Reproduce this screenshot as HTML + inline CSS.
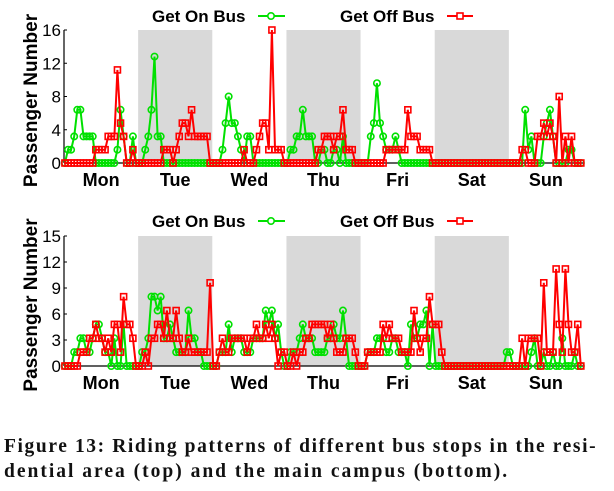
<!DOCTYPE html>
<html><head><meta charset="utf-8"><style>
body{margin:0;background:#fff;width:614px;height:491px;overflow:hidden}
svg{display:block}
.cap{position:absolute;left:4px;font-family:"Liberation Serif",serif;font-weight:bold;font-size:19.5px;color:#111;white-space:nowrap}
</style></head><body>
<svg id="chart" width="614" height="420" xmlns="http://www.w3.org/2000/svg" font-family="Liberation Sans, sans-serif"></svg>
<div class="cap" style="top:436px;letter-spacing:1.6px">Figure 13: Riding patterns of different bus stops in the resi-</div>
<div class="cap" style="top:461px;letter-spacing:2px">dential area (top) and the main campus (bottom).</div>
<script>
const days = ["Mon","Tue","Wed","Thu","Fri","Sat","Sun"];
const unit = 1.6;
// values in units of 1.6 passengers, 24 per day
const topOn = [0,1,1,2,4,4,2,2,2,2,0,0,0,0,0,0,0,1,4,2,0,0,2,0,
 0,0,1,2,4,8,2,2,0,0,0,0,0,0,0,0,0,0,0,0,0,0,0,0,
 0,0,0,1,3,5,3,3,2,1,0,2,2,0,0,0,0,0,0,0,0,0,0,0,
 0,1,1,2,2,4,2,2,2,0,0,1,1,0,0,1,1,0,2,0,0,0,0,0,
 0,0,0,2,3,6,3,2,1,1,1,2,1,0,0,0,0,0,0,0,0,0,0,0,
 0,0,0,0,0,0,0,0,0,0,0,0,0,0,0,0,0,0,0,0,0,0,0,0,
 0,0,0,0,0,4,1,2,0,0,0,2,3,4,2,0,0,0,0,1,1,0,0,0];
const topOff = [0,0,0,0,0,0,0,0,0,0,1,1,1,1,2,2,2,7,3,2,0,0,1,0,
 0,0,0,0,0,0,0,0,1,1,1,0,1,2,3,3,2,4,2,2,2,2,2,0,
 0,0,0,0,0,0,0,0,0,0,1,0,0,0,1,2,3,3,1,10,1,1,1,0,
 0,0,0,0,0,0,0,0,0,0,1,1,2,2,2,1,2,2,4,1,1,1,0,0,
 0,0,0,0,0,0,0,0,1,1,1,1,1,1,1,4,2,2,2,1,1,1,1,0,
 0,0,0,0,0,0,0,0,0,0,0,0,0,0,0,0,0,0,0,0,0,0,0,0,
 0,0,0,0,1,1,0,0,0,2,2,3,2,3,2,0,5,0,2,0,2,0,0,0];
const botOn = [0,0,0,1,1,2,2,1,1,2,3,3,2,1,1,0,2,0,0,3,0,0,0,0,
 0,1,1,2,5,5,4,5,2,2,3,2,1,1,1,1,4,2,2,1,1,0,0,0,
 0,0,1,1,1,3,1,2,2,2,1,1,1,2,2,2,2,4,3,4,2,3,1,0,
 0,1,1,1,2,3,2,2,2,1,1,1,1,2,2,3,2,2,4,2,0,0,0,0,
 0,0,1,1,1,2,2,2,1,1,2,2,1,1,1,0,3,2,2,3,3,4,0,3,
 0,0,0,0,0,0,0,0,0,0,0,0,0,0,0,0,0,0,0,0,0,0,0,1,
 1,0,0,0,0,0,0,1,2,0,0,1,0,0,1,0,0,2,0,0,0,1,0,0];
const botOff = [0,0,0,0,0,1,1,1,2,2,3,2,2,1,2,1,3,3,1,5,3,3,2,0,
 0,0,1,0,2,2,3,3,2,4,2,2,4,2,1,1,2,1,1,1,1,1,1,6,
 0,0,1,2,1,1,2,2,2,2,2,1,2,2,3,2,2,3,2,3,2,0,1,1,
 0,0,1,0,1,1,2,2,3,3,3,3,3,2,3,2,1,1,1,2,2,2,1,0,
 0,0,1,1,1,1,1,3,2,3,2,2,2,1,1,1,1,4,2,1,2,2,5,3,
 3,3,1,0,0,0,0,0,0,0,0,0,0,0,0,0,0,0,0,0,0,0,0,0,
 0,0,0,0,2,0,2,2,2,2,0,6,1,1,1,7,3,1,7,3,1,1,3,0];
const topTicks = [0,4,8,12,16];
const botTicks = [0,3,6,9,12,15];

const NS = "http://www.w3.org/2000/svg";
const svg = document.getElementById("chart");
function mk(tag, attrs, parent){
  const e = document.createElementNS(NS, tag);
  for (const k in attrs) e.setAttribute(k, attrs[k]);
  (parent||svg).appendChild(e);
  return e;
}
const X0 = 64, X1 = 583, N = 168;
const xs = i => X0 + (i + 0.3) * (X1 - X0) / N;
const dayX = d => X0 + d * (X1 - X0) / 7;

function panel(name, yTop, yBot, ymax, ticks, on, off, legY){
  const ys = v => yBot - (v / ymax) * (yBot - yTop);
  const g = mk("g", {});
  
  
  [1,3,5].forEach(d => {
    const r = mk("rect", {x: dayX(d), y: yTop, width: dayX(d+1)-dayX(d), height: yBot-yTop, fill: "#d9d9d9"}, g);
    
    
  });
  const ax = mk("line", {x1: X0, y1: yTop, x2: X0, y2: yBot, stroke: "#000", "stroke-width": 1.2}, g);
  
  
  ticks.forEach(t => {
    const y = ys(t);
    mk("line", {x1: X0, y1: y, x2: X0 + 3, y2: y, stroke: "#000"}, g);
    const tx = mk("text", {x: X0 - 3, y: y + 6, "text-anchor": "end", "font-size": 17, fill: "#000"}, g);
    tx.textContent = t;
    
    
  });
  const bl = mk("line", {x1: X0, y1: yBot, x2: X1, y2: yBot, stroke: "#000", "stroke-width": 1.2}, g);
  
  
  days.forEach((d, k) => {
    const t = mk("text", {x: (dayX(k)+dayX(k+1))/2, y: yBot + 23, "text-anchor": "middle", "font-size": 18, "font-weight": "bold"}, g);
    t.textContent = d;
    
    
  });
  const yt = mk("text", {transform: `translate(37,${(yTop+yBot)/2+4}) rotate(-90)`, "text-anchor": "middle", "font-size": 19, "font-weight": "bold"}, g);
  yt.textContent = "Passenger Number";
  
  

  function series(vals, color, shape, sname){
    const sg = mk("g", {}, g);
    
    
    const pts = vals.map((v, i) => xs(i).toFixed(1) + "," + ys(v * unit).toFixed(1)).join(" ");
    const pl = mk("polyline", {points: pts, fill: "none", stroke: color, "stroke-width": 2}, sg);
    
    
    vals.forEach((v, i) => {
      const cx = xs(i), cy = ys(v * unit);
      let m;
      if (shape === "c") m = mk("circle", {cx, cy, r: 3.2, fill: "none", stroke: color, "stroke-width": 1.6}, sg);
      else m = mk("rect", {x: cx - 3, y: cy - 3, width: 6, height: 6, fill: "none", stroke: color, "stroke-width": 1.6}, sg);
      
      
    });
  }
  series(on, "#00e000", "c", name + "-get-on");
  series(off, "#ff0000", "s", name + "-get-off");

  const lg = mk("g", {}, g);
  
  
  const l1 = mk("text", {x: 152, y: legY + 6, "font-size": 17, "font-weight": "bold"}, lg);
  l1.textContent = "Get On Bus";
  
  
  mk("line", {x1: 258, y1: legY, x2: 285, y2: legY, stroke: "#00e000", "stroke-width": 2}, lg);
  mk("circle", {cx: 271, cy: legY, r: 3.2, fill: "#fff", stroke: "#00e000", "stroke-width": 1.6}, lg);
  const l2 = mk("text", {x: 340, y: legY + 6, "font-size": 17, "font-weight": "bold"}, lg);
  l2.textContent = "Get Off Bus";
  
  
  mk("line", {x1: 447, y1: legY, x2: 473, y2: legY, stroke: "#ff0000", "stroke-width": 2}, lg);
  mk("rect", {x: 457, y: legY - 3, width: 6, height: 6, fill: "#fff", stroke: "#ff0000", "stroke-width": 1.6}, lg);
}
panel("top-chart-residential", 30, 163, 16, topTicks, topOn, topOff, 16);
panel("bottom-chart-campus", 236, 366, 15, botTicks, botOn, botOff, 221);
</script>
</body></html>
